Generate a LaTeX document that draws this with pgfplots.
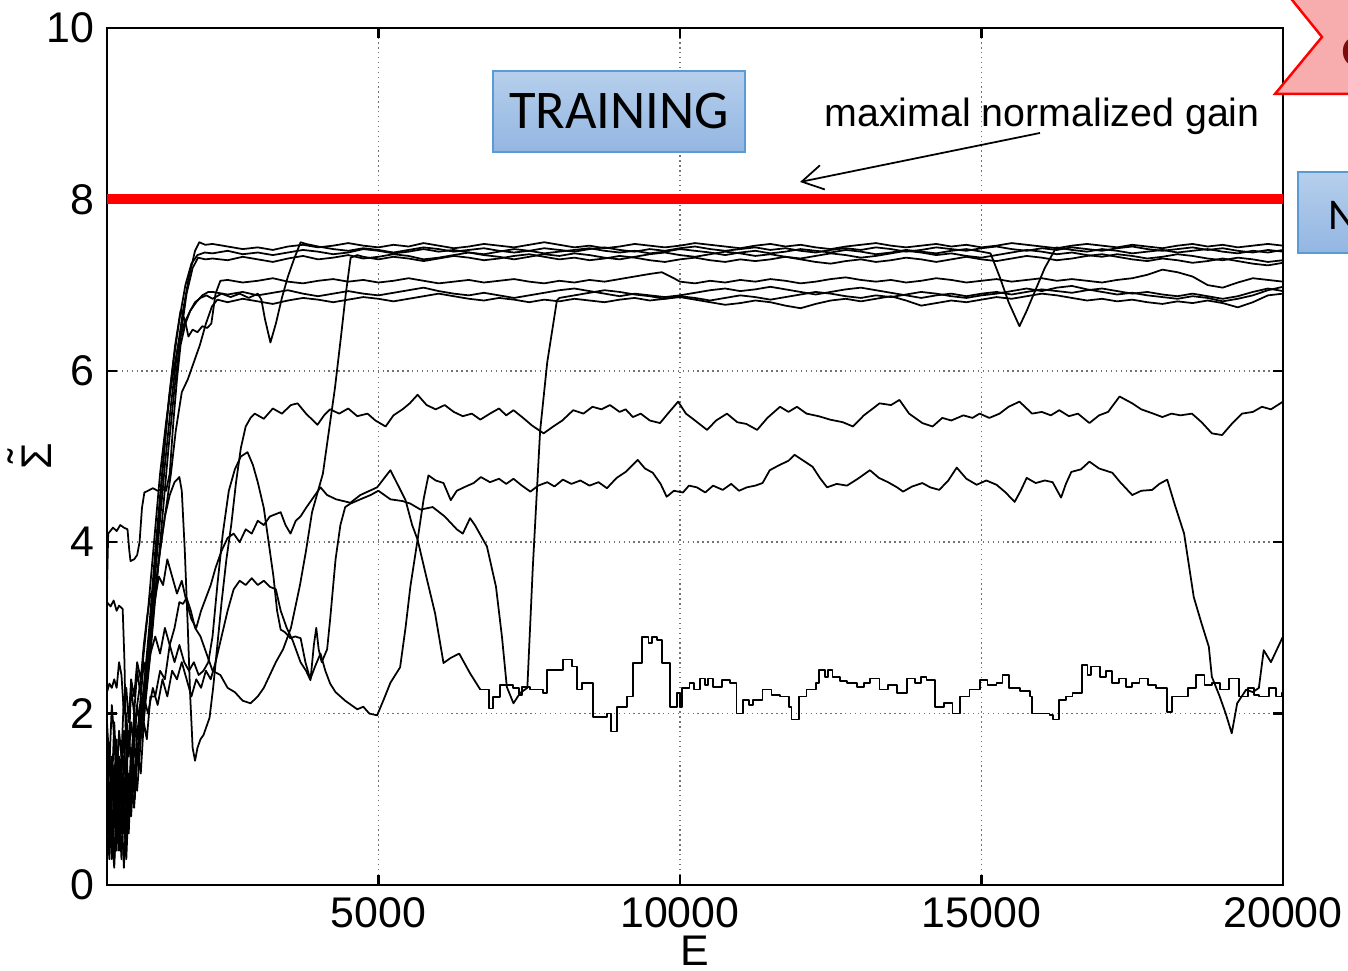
\documentclass[border=0pt]{standalone}
\usepackage{fontspec}
\setmainfont{Liberation Sans}
\newfontfamily\calibri{Carlito}
\usepackage{pgfplots}
\pgfplotsset{compat=1.18}
\usetikzlibrary{arrows.meta}
\definecolor{boxtop}{HTML}{B6CFEC}
\definecolor{boxbot}{HTML}{93B6E2}
\definecolor{boxedge}{HTML}{5B9BD5}
\definecolor{starfill}{HTML}{F7ADAD}
\definecolor{starink}{HTML}{7A0C0C}
\pgfplotsset{run/.style={black, line width=0.5pt, line join=round, mark=none}}

\begin{document}
\begin{tikzpicture}
\useasboundingbox (0,0) rectangle (13.48,9.71);
\clip (0,0) rectangle (13.48,9.71);
\begin{axis}[
  at={(1.07cm,0.86cm)}, anchor=south west,
  scale only axis, width=11.76cm, height=8.57cm,
  xmin=500, xmax=20000, ymin=0, ymax=10,
  xtick={5000,10000,15000,20000}, ytick={0,2,4,6,8,10},
  scaled x ticks=false,
  xticklabel style={/pgf/number format/1000 sep={}},
  /pgf/number format/assume math mode=true,
  ticklabel style={font=\fontsize{12.2}{14}\selectfont},
  grid=major, major grid style={black!55, densely dotted, line width=0.45pt},
  tick align=inside, major tick length=0.1cm, tick style={black, line width=0.7pt},
  axis line style={black, line width=0.8pt},
  xlabel={E},
  ylabel={\ooalign{Σ\cr\hidewidth\raisebox{0.3em}{˜}\hidewidth\cr}},
  label style={font=\fontsize{12.2}{14}\selectfont},
  xlabel style={at={(axis description cs:0.5,-0.077)}, anchor=center},
  ylabel style={at={(axis description cs:-0.06,0.5)}, anchor=center},
]
% runs that settle in the upper band
\addplot[run] coordinates {(500,1.3)(540,0.6)(580,1.5)(620,0.7)(660,1.2)(700,0.4)(740,1.1)(780,0.6)(820,1.4)(860,0.9)(900,1.6)(950,1.2)(1000,1.8)(1060,2.0)(1160,2.6)(1260,3.3)(1360,4.1)(1460,4.9)(1560,5.6)(1660,6.2)(1760,6.7)(1860,7.1)(1960,7.4)(2030,7.5)(2130,7.47)
(2250,7.48)(2500,7.45)(2750,7.42)(3000,7.44)(3250,7.41)(3500,7.45)(3750,7.47)(4000,7.44)(4250,7.46)(4500,7.49)(4750,7.46)(5000,7.44)(5250,7.47)(5500,7.45)(5750,7.49)(6000,7.46)(6250,7.43)(6500,7.45)(6750,7.48)(7000,7.46)(7250,7.44)(7500,7.47)(7750,7.50)(8000,7.47)(8250,7.44)(8500,7.46)(8750,7.43)(9000,7.45)(9250,7.48)(9500,7.46)(9750,7.44)(10000,7.46)(10250,7.49)(10500,7.47)(10750,7.45)(11000,7.43)(11250,7.46)(11500,7.48)(11750,7.45)(12000,7.47)(12250,7.44)(12500,7.42)(12750,7.45)(13000,7.47)(13250,7.49)(13500,7.46)(13750,7.44)(14000,7.46)(14250,7.48)(14500,7.45)(14750,7.47)(15000,7.44)(15250,7.46)(15500,7.49)(15750,7.47)(16000,7.45)(16250,7.43)(16500,7.46)(16750,7.48)(17000,7.46)(17250,7.44)(17500,7.47)(17750,7.45)(18000,7.43)(18250,7.46)(18500,7.48)(18750,7.45)(19000,7.47)(19250,7.44)(19500,7.46)(19750,7.48)(20000,7.46)};
\addplot[run] coordinates {(500,0.9)(540,1.6)(580,0.8)(620,0.3)(660,1.0)(700,1.5)(740,0.7)(780,1.2)(820,0.5)(860,1.1)(900,0.8)(950,1.4)(1000,1.1)(1060,1.7)(1120,2.0)(1220,2.7)(1320,3.5)(1420,4.3)(1520,5.1)(1620,5.8)(1720,6.4)(1820,6.9)(1920,7.2)(2010,7.32)(2130,7.3)
(2250,7.31)(2500,7.29)(2750,7.33)(3000,7.30)(3250,7.27)(3500,7.31)(3750,7.34)(4000,7.30)(4250,7.32)(4500,7.35)(4750,7.31)(5000,7.33)(5250,7.36)(5500,7.34)(5750,7.30)(6000,7.32)(6250,7.35)(6500,7.38)(6750,7.35)(7000,7.33)(7250,7.30)(7500,7.33)(7750,7.36)(8000,7.34)(8250,7.37)(8500,7.35)(8750,7.32)(9000,7.30)(9250,7.33)(9500,7.36)(9750,7.38)(10000,7.35)(10250,7.33)(10500,7.36)(10750,7.39)(11000,7.37)(11250,7.34)(11500,7.36)(11750,7.33)(12000,7.31)(12250,7.34)(12500,7.37)(12750,7.35)(13000,7.32)(13250,7.34)(13500,7.37)(13750,7.40)(14000,7.38)(14250,7.35)(14500,7.37)(14750,7.34)(15000,7.32)(15250,7.35)(15500,7.38)(15750,7.41)(16000,7.39)(16250,7.36)(16500,7.38)(16750,7.35)(17000,7.33)(17250,7.36)(17500,7.34)(17750,7.31)(18000,7.33)(18250,7.36)(18500,7.34)(18750,7.31)(19000,7.29)(19250,7.32)(19500,7.30)(19750,7.27)(20000,7.29)};
\addplot[run] coordinates {(500,0.5)(540,1.1)(580,0.3)(620,0.9)(660,0.4)(700,1.3)(740,0.9)(780,0.2)(820,0.8)(860,1.3)(900,1.0)(950,1.6)(1000,1.4)(1060,1.9)(1110,2.3)(1200,3.0)(1300,3.9)(1400,4.7)(1500,5.5)(1600,6.1)(1700,6.6)(1800,7.0)(1900,7.25)(2000,7.35)(2120,7.38)
(2250,7.37)(2500,7.40)(2750,7.36)(3000,7.38)(3250,7.35)(3500,7.38)(3750,7.41)(4000,7.39)(4250,7.36)(4500,7.38)(4750,7.42)(5000,7.40)(5250,7.37)(5500,7.39)(5750,7.42)(6000,7.39)(6250,7.41)(6500,7.38)(6750,7.36)(7000,7.39)(7250,7.42)(7500,7.40)(7750,7.37)(8000,7.39)(8250,7.41)(8500,7.43)(8750,7.40)(9000,7.38)(9250,7.40)(9500,7.37)(9750,7.39)(10000,7.42)(10250,7.40)(10500,7.38)(10750,7.35)(11000,7.38)(11250,7.40)(11500,7.37)(11750,7.39)(12000,7.42)(12250,7.40)(12500,7.38)(12750,7.41)(13000,7.39)(13250,7.36)(13500,7.38)(13750,7.41)(14000,7.39)(14250,7.37)(14500,7.40)(14750,7.42)(15000,7.39)(15150,7.37)(15300,7.10)(15450,6.80)(15630,6.52)(15750,6.70)(15900,6.95)(16050,7.20)(16240,7.44)(16500,7.41)(16750,7.39)(17000,7.42)(17250,7.40)(17500,7.37)(17750,7.39)(18000,7.41)(18250,7.38)(18500,7.40)(18750,7.42)(19000,7.39)(19250,7.37)(19500,7.40)(19750,7.38)(20000,7.41)};
\addplot[run] coordinates {(500,3.5)(520,4.1)(600,4.17)(660,4.13)(720,4.2)(780,4.17)(840,4.15)(870,3.9)(890,3.78)(950,3.8)(1000,3.85)(1040,4.0)(1080,4.4)(1120,4.58)(1180,4.6)(1260,4.63)(1340,4.6)(1420,4.62)(1480,4.6)(1540,4.8)(1600,5.4)(1660,5.9)(1720,6.3)(1800,6.55)(1880,6.7)(1960,6.8)(2050,6.85)(2150,6.88)(2250,6.84)(2400,6.9)(2550,6.86)(2700,6.9)(2850,6.85)(3000,6.9)(3060,6.83)(3120,6.6)(3210,6.33)(3300,6.55)(3400,6.85)(3500,7.1)(3600,7.3)(3710,7.5)
(3800,7.48)(4000,7.45)(4250,7.42)(4500,7.40)(4750,7.43)(5000,7.41)(5250,7.38)(5500,7.41)(5750,7.44)(6000,7.42)(6250,7.39)(6500,7.41)(6750,7.43)(7000,7.40)(7250,7.38)(7500,7.40)(7750,7.43)(8000,7.41)(8250,7.39)(8500,7.42)(8750,7.44)(9000,7.41)(9250,7.39)(9500,7.42)(9750,7.40)(10000,7.43)(10250,7.45)(10500,7.42)(10750,7.40)(11000,7.42)(11250,7.44)(11500,7.41)(11750,7.43)(12000,7.40)(12250,7.38)(12500,7.41)(12750,7.43)(13000,7.41)(13250,7.44)(13500,7.42)(13750,7.39)(14000,7.41)(14250,7.44)(14500,7.42)(14750,7.40)(15000,7.43)(15250,7.45)(15500,7.42)(15750,7.40)(16000,7.43)(16250,7.41)(16500,7.44)(16750,7.42)(17000,7.40)(17250,7.43)(17500,7.45)(17750,7.42)(18000,7.40)(18250,7.42)(18500,7.44)(18750,7.41)(19000,7.43)(19250,7.40)(19500,7.38)(19750,7.41)(20000,7.39)};
\addplot[run] coordinates {(500,0.4)(540,1.2)(580,0.6)(620,0.2)(660,0.9)(700,0.5)(740,1.4)(780,0.8)(820,0.3)(860,1.0)(900,1.5)(950,1.1)(1000,1.6)(1060,1.3)(1110,1.9)(1160,1.7)(1220,2.2)(1300,2.2)(1380,2.5)(1460,2.4)(1540,2.8)(1620,3.0)(1700,3.3)(1760,3.28)(1820,3.35)(1890,3.2)(1960,3.0)(2050,2.9)(2150,2.7)(2250,2.5)(2380,2.45)(2500,2.3)(2620,2.25)(2750,2.15)(2880,2.12)(3000,2.2)(3100,2.3)(3200,2.45)(3300,2.6)(3420,2.75)(3550,3.0)(3700,3.5)(3800,3.9)(3900,4.35)(4000,4.6)(4080,4.8)(4180,5.3)(4280,5.8)(4380,6.4)(4460,6.9)(4540,7.32)
(4650,7.35)(4750,7.33)(5000,7.30)(5250,7.33)(5500,7.31)(5750,7.28)(6000,7.31)(6250,7.34)(6500,7.32)(6750,7.29)(7000,7.31)(7250,7.34)(7500,7.36)(7750,7.33)(8000,7.30)(8250,7.32)(8500,7.29)(8750,7.31)(9000,7.34)(9250,7.32)(9500,7.29)(9750,7.27)(10000,7.30)(10250,7.32)(10500,7.29)(10750,7.27)(11000,7.30)(11250,7.28)(11500,7.30)(11750,7.33)(12000,7.30)(12250,7.27)(12500,7.25)(12750,7.28)(13000,7.30)(13250,7.27)(13500,7.29)(13750,7.32)(14000,7.30)(14250,7.27)(14500,7.30)(14750,7.33)(15000,7.30)(15250,7.28)(15500,7.31)(15750,7.34)(16000,7.32)(16250,7.29)(16500,7.31)(16750,7.34)(17000,7.36)(17250,7.33)(17500,7.30)(17750,7.28)(18000,7.31)(18250,7.29)(18500,7.26)(18750,7.28)(19000,7.31)(19250,7.28)(19500,7.25)(19750,7.23)(20000,7.26)};
% runs that settle slightly lower
\addplot[run] coordinates {(500,0.7)(540,0.3)(580,1.0)(620,1.4)(660,0.6)(700,0.9)(740,0.3)(780,1.0)(820,1.5)(860,0.7)(900,1.2)(950,0.9)(1000,1.5)(1060,1.8)(1130,2.3)(1230,3.1)(1330,4.0)(1430,4.9)(1530,5.7)(1630,6.3)(1720,6.7)(1790,6.6)(1850,6.4)(1920,6.48)(2000,6.45)(2080,6.52)(2160,6.5)(2230,6.55)(2300,6.9)(2380,7.05)
(2500,7.06)(2750,7.03)(3000,7.05)(3250,7.08)(3500,7.04)(3750,7.02)(4000,7.05)(4250,7.07)(4500,7.04)(4750,7.06)(5000,7.03)(5250,7.05)(5500,7.08)(5750,7.05)(6000,7.02)(6250,7.04)(6500,7.06)(6750,7.03)(7000,7.05)(7250,7.07)(7500,7.04)(7750,7.02)(8000,7.05)(8250,7.03)(8500,7.06)(8750,7.04)(9000,7.07)(9250,7.10)(9500,7.13)(9700,7.15)(9900,7.08)(10000,7.04)(10250,7.02)(10500,7.05)(10750,7.03)(11000,7.06)(11250,7.04)(11500,7.07)(11750,7.05)(12000,7.02)(12250,7.04)(12500,7.07)(12750,7.09)(13000,7.06)(13250,7.04)(13500,7.06)(13750,7.03)(14000,7.05)(14250,7.08)(14500,7.06)(14750,7.03)(15000,7.05)(15250,7.07)(15500,7.04)(15750,7.06)(16000,7.08)(16250,7.05)(16500,7.07)(16750,7.05)(17000,7.03)(17250,7.06)(17500,7.08)(17750,7.12)(18000,7.18)(18250,7.15)(18500,7.10)(18750,7.00)(19000,6.97)(19250,7.03)(19500,7.08)(19750,7.06)(20000,7.04)};
\addplot[run] coordinates {(500,1.6)(540,1.0)(580,0.5)(620,1.2)(660,1.7)(700,0.8)(740,1.3)(780,1.8)(820,1.0)(860,0.6)(900,1.3)(950,1.8)(1000,2.1)(1080,2.5)(1180,3.2)(1280,4.0)(1380,4.8)(1480,5.4)(1580,5.9)(1680,6.3)(1780,6.55)(1880,6.7)(1980,6.8)(2080,6.88)(2180,6.92)
(2250,6.92)(2500,6.89)(2750,6.92)(3000,6.88)(3250,6.91)(3500,6.94)(3750,6.90)(4000,6.87)(4250,6.90)(4500,6.93)(4750,6.90)(5000,6.88)(5250,6.91)(5500,6.94)(5750,6.97)(6000,6.93)(6250,6.90)(6500,6.88)(6750,6.91)(7000,6.88)(7250,6.85)(7500,6.88)(7750,6.91)(8000,6.94)(8250,6.96)(8500,6.93)(8750,6.90)(9000,6.87)(9250,6.90)(9500,6.88)(9750,6.86)(10000,6.88)(10250,6.91)(10500,6.94)(10750,6.96)(11000,6.93)(11250,6.95)(11500,6.98)(11750,6.95)(12000,6.92)(12250,6.89)(12500,6.92)(12750,6.95)(13000,6.97)(13250,6.94)(13500,6.91)(13750,6.88)(14000,6.85)(14250,6.88)(14500,6.90)(14750,6.87)(15000,6.90)(15250,6.92)(15500,6.89)(15750,6.92)(16000,6.95)(16250,6.93)(16500,6.91)(16750,6.94)(17000,6.96)(17250,6.93)(17500,6.90)(17750,6.92)(18000,6.89)(18250,6.87)(18500,6.90)(18750,6.87)(19000,6.84)(19250,6.87)(19500,6.92)(19750,6.96)(20000,6.93)};
\addplot[run] coordinates {(500,3.3)(560,3.25)(610,3.32)(660,3.2)(700,3.26)(760,3.22)(790,2.6)(810,1.8)(840,1.3)(870,0.8)(910,1.4)(960,1.0)(1010,1.6)(1060,2.1)(1110,1.9)(1160,2.5)(1260,3.2)(1360,3.8)(1460,4.3)(1560,4.8)(1640,5.3)(1740,5.75)(1840,5.9)(1940,6.1)(2040,6.3)(2140,6.55)(2240,6.75)
(2330,6.83)(2500,6.80)(2750,6.84)(3000,6.81)(3250,6.78)(3500,6.82)(3750,6.85)(4000,6.83)(4250,6.80)(4500,6.83)(4750,6.86)(5000,6.84)(5250,6.81)(5500,6.84)(5750,6.87)(6000,6.90)(6250,6.87)(6500,6.84)(6750,6.82)(7000,6.85)(7250,6.83)(7500,6.80)(7750,6.83)(8000,6.81)(8250,6.84)(8500,6.82)(8750,6.80)(9000,6.83)(9250,6.85)(9500,6.82)(9750,6.84)(10000,6.86)(10250,6.83)(10500,6.80)(10750,6.77)(11000,6.79)(11250,6.82)(11500,6.80)(11750,6.76)(12000,6.73)(12250,6.78)(12500,6.82)(12750,6.84)(13000,6.81)(13250,6.84)(13500,6.87)(13750,6.82)(14000,6.76)(14250,6.79)(14500,6.82)(14750,6.80)(15000,6.83)(15250,6.86)(15500,6.84)(15750,6.87)(16000,6.90)(16250,6.88)(16500,6.85)(16750,6.82)(17000,6.84)(17250,6.81)(17500,6.83)(17750,6.80)(18000,6.78)(18250,6.81)(18500,6.79)(18750,6.82)(19000,6.79)(19250,6.74)(19500,6.80)(19750,6.88)(20000,6.90)};
\addplot[run] coordinates {(500,0.8)(540,1.5)(580,1.1)(620,1.9)(660,1.3)(700,0.7)(740,1.6)(780,1.3)(820,2.0)(860,1.5)(900,1.9)(950,1.6)(1000,2.1)(1060,1.8)(1110,2.2)(1180,2.0)(1260,2.3)(1340,2.1)(1420,2.4)(1500,2.2)(1580,2.5)(1660,2.4)(1740,2.6)(1820,2.4)(1900,2.2)(1980,2.4)(2060,2.3)(2140,2.5)(2220,2.4)(2300,2.6)(2400,2.9)(2500,3.2)(2600,3.45)(2700,3.55)(2800,3.5)(2900,3.58)(3000,3.5)(3100,3.55)(3200,3.48)(3300,3.45)(3380,3.2)(3480,3.0)(3580,2.85)(3709,2.6)(3800,2.5)(3874,2.39)(3930,2.8)(3970,3.0)(4010,2.75)(4060,2.6)(4150,2.75)(4200,3.1)(4290,3.8)(4370,4.2)(4450,4.41)(4536,4.45)(4700,4.5)(4870,4.55)(5000,4.6)(5200,4.5)(5400,4.48)(5530,4.45)(5700,4.38)(5900,4.41)(6100,4.3)(6300,4.15)(6400,4.1)(6520,4.28)(6600,4.2)(6800,3.95)(6950,3.48)(7050,2.89)(7130,2.31)(7240,2.12)(7350,2.24)(7470,2.3)(7560,3.7)(7682,5.3)(7800,6.1)(7960,6.82)
(8000,6.85)(8250,6.88)(8500,6.91)(8750,6.94)(9000,6.92)(9250,6.89)(9500,6.87)(9750,6.84)(10000,6.87)(10250,6.85)(10500,6.82)(10750,6.85)(11000,6.88)(11250,6.86)(11500,6.83)(11750,6.86)(12000,6.89)(12250,6.92)(12500,6.90)(12750,6.87)(13000,6.85)(13250,6.88)(13500,6.86)(13750,6.89)(14000,6.92)(14250,6.90)(14500,6.87)(14750,6.85)(15000,6.88)(15250,6.90)(15500,6.93)(15750,6.96)(16000,6.93)(16250,6.97)(16500,6.99)(16750,6.95)(17000,6.92)(17250,6.89)(17500,6.91)(17750,6.88)(18000,6.86)(18250,6.84)(18500,6.87)(18750,6.85)(19000,6.81)(19250,6.84)(19500,6.88)(19750,6.94)(20000,6.98)};
% run around 5.5
\addplot[run] coordinates {(500,1.1)(540,0.5)(580,1.3)(620,0.8)(660,1.6)(700,1.1)(740,0.6)(780,1.5)(820,1.2)(860,1.8)(900,1.4)(950,2.0)(1000,1.7)(1060,2.2)(1110,2.0)(1160,2.5)(1220,2.8)(1300,3.4)(1380,3.9)(1460,4.3)(1540,4.55)(1620,4.7)(1700,4.76)(1740,4.6)(1790,3.9)(1840,3.0)(1880,2.2)(1920,1.6)(1960,1.45)(2000,1.6)(2050,1.7)(2100,1.75)(2150,1.85)(2200,1.95)(2260,2.3)(2330,2.8)(2400,3.3)(2480,3.8)(2560,4.2)(2640,4.7)(2720,5.1)(2800,5.35)(2880,5.45)
(2950,5.5)(3100,5.44)(3250,5.56)(3400,5.5)(3550,5.6)(3660,5.62)(3800,5.5)(3990,5.37)(4100,5.48)(4200,5.55)(4350,5.5)(4500,5.56)(4650,5.47)(4820,5.5)(4950,5.42)(5120,5.35)(5250,5.48)(5400,5.55)(5520,5.62)(5650,5.72)(5800,5.6)(5950,5.55)(6100,5.6)(6250,5.52)(6400,5.47)(6550,5.5)(6690,5.43)(6850,5.5)(7000,5.56)(7120,5.48)(7240,5.54)(7400,5.45)(7550,5.36)(7740,5.27)(7900,5.35)(8050,5.42)(8230,5.54)(8400,5.5)(8550,5.58)(8700,5.55)(8840,5.6)(9000,5.52)(9100,5.55)(9220,5.46)(9350,5.5)(9500,5.42)(9670,5.39)(9800,5.5)(9970,5.64)(10100,5.5)(10250,5.42)(10450,5.31)(10600,5.42)(10780,5.5)(10950,5.4)(11100,5.38)(11280,5.31)(11450,5.45)(11660,5.58)(11800,5.52)(11940,5.58)(12100,5.5)(12300,5.47)(12490,5.43)(12700,5.4)(12870,5.35)(13050,5.48)(13200,5.56)(13310,5.62)(13500,5.6)(13640,5.66)(13800,5.5)(14020,5.39)(14190,5.35)(14350,5.45)(14500,5.42)(14700,5.48)(14850,5.45)(14970,5.5)(15130,5.45)(15300,5.5)(15450,5.58)(15630,5.64)(15840,5.5)(16000,5.52)(16150,5.48)(16290,5.54)(16450,5.47)(16600,5.5)(16790,5.39)(16950,5.48)(17100,5.52)(17290,5.7)(17500,5.62)(17650,5.55)(17850,5.5)(18000,5.46)(18150,5.5)(18300,5.48)(18490,5.5)(18650,5.4)(18820,5.27)(18990,5.25)(19150,5.38)(19320,5.5)(19500,5.52)(19650,5.58)(19800,5.55)(20000,5.64)};
% run around 4.7 that collapses near the end
\addplot[run] coordinates {(500,1.9)(540,1.4)(580,2.1)(620,1.7)(660,1.2)(700,1.8)(740,1.5)(780,2.2)(820,1.9)(860,1.6)(900,2.3)(950,2.0)(1000,2.5)(1060,2.2)(1110,2.6)(1160,2.4)(1220,2.7)(1300,2.9)(1380,2.7)(1460,3.0)(1540,2.8)(1620,2.6)(1700,2.8)(1780,2.6)(1860,2.5)(1940,2.6)(2020,2.45)(2100,2.5)(2180,2.6)(2250,2.9)(2330,3.5)(2420,4.1)(2520,4.6)(2620,4.85)(2720,5.0)(2830,5.05)(2920,4.9)(3000,4.7)(3100,4.4)(3180,4.0)(3260,3.6)(3320,3.2)(3380,2.98)(3450,2.95)(3540,2.88)(3620,2.9)(3710,2.88)(3790,2.6)(3870,2.4)(3950,2.55)(4040,2.7)(4120,2.5)(4200,2.35)(4290,2.25)(4370,2.2)(4450,2.15)(4550,2.1)(4650,2.05)(4750,2.08)(4850,2.0)(4980,1.98)(5080,2.15)(5200,2.36)(5280,2.45)(5360,2.54)(5450,3.0)(5530,3.48)(5650,4.03)(5750,4.5)(5830,4.78)(5950,4.72)(6080,4.69)(6200,4.49)(6300,4.6)(6450,4.65)(6580,4.69)
(6700,4.76)(6850,4.7)(7000,4.74)(7120,4.68)(7240,4.74)(7380,4.66)(7520,4.59)(7650,4.66)(7800,4.7)(7920,4.65)(8060,4.73)(8200,4.68)(8350,4.72)(8500,4.66)(8650,4.7)(8790,4.63)(8950,4.75)(9100,4.82)(9300,4.96)(9420,4.86)(9550,4.81)(9680,4.68)(9780,4.53)(9900,4.6)(10050,4.58)(10150,4.66)(10280,4.64)(10420,4.58)(10550,4.66)(10710,4.61)(10850,4.68)(10980,4.6)(11110,4.64)(11250,4.66)(11370,4.69)(11490,4.84)(11650,4.9)(11800,4.95)(11900,5.02)(12050,4.95)(12200,4.88)(12320,4.75)(12440,4.64)(12600,4.68)(12770,4.66)(12950,4.74)(13150,4.84)(13300,4.75)(13450,4.7)(13600,4.64)(13700,4.59)(13850,4.65)(14020,4.69)(14150,4.64)(14300,4.61)(14450,4.72)(14590,4.87)(14750,4.74)(14920,4.67)(15080,4.72)(15250,4.67)(15400,4.58)(15550,4.47)(15650,4.6)(15750,4.75)(15900,4.69)(16050,4.72)(16180,4.7)(16320,4.52)(16400,4.68)(16490,4.82)(16650,4.85)(16790,4.94)(16950,4.86)(17170,4.81)(17300,4.7)(17500,4.55)(17650,4.6)(17830,4.61)(17950,4.68)(18080,4.73)(18200,4.45)(18360,4.1)(18520,3.36)(18650,3.05)(18770,2.78)(18820,2.43)(18950,2.2)(19050,2.0)(19150,1.77)(19240,2.12)(19390,2.28)(19500,2.25)(19600,2.3)(19680,2.74)(19800,2.6)(19900,2.75)(20000,2.9)};
% run that ends in the stepped band near 2.2
\addplot[run] coordinates {(500,2.25)(540,2.35)(580,2.3)(620,2.4)(660,2.3)(700,2.6)(740,2.45)(780,2.0)(820,2.3)(860,1.9)(900,2.4)(950,2.2)(1000,2.6)(1060,2.4)(1110,2.8)(1160,3.1)(1220,3.4)(1290,3.3)(1360,3.6)(1430,3.5)(1500,3.8)(1580,3.6)(1660,3.4)(1740,3.55)(1820,3.3)(1900,3.1)(1980,3.0)(2060,3.2)(2140,3.35)(2220,3.5)(2300,3.7)(2400,3.9)(2500,4.05)(2600,4.1)(2700,4.0)(2800,4.15)(2900,4.1)(3000,4.25)(3100,4.2)(3200,4.3)(3380,4.35)(3460,4.2)(3543,4.1)(3630,4.25)(3709,4.3)(3800,4.4)(3900,4.5)(4040,4.64)(4150,4.55)(4300,4.5)(4536,4.46)(4700,4.55)(4980,4.64)(5100,4.75)(5199,4.84)(5300,4.7)(5450,4.49)(5560,4.2)(5650,4.03)(5780,3.64)(5940,3.17)(6080,2.59)(6200,2.65)(6340,2.7)(6520,2.47)(6690,2.28)};
\addplot[run, const plot] coordinates {(6690,2.28)(6840,2.06)(6900,2.19)(7020,2.33)(7230,2.30)(7330,2.22)(7380,2.31)(7517,2.28)(7730,2.24)(7800,2.51)(8060,2.63)(8210,2.55)(8290,2.28)(8380,2.36)(8560,1.96)(8790,2.0)(8860,1.79)(8960,2.08)(9120,2.2)(9220,2.59)(9370,2.89)(9480,2.82)(9540,2.89)(9620,2.86)(9700,2.59)(9830,2.08)(9950,2.24)(10000,2.08)(10030,2.3)(10160,2.36)(10230,2.28)(10330,2.41)(10420,2.33)(10470,2.41)(10550,2.31)(10700,2.39)(10830,2.36)(10940,2.0)(11040,2.16)(11150,2.1)(11210,2.16)(11320,2.16)(11370,2.28)(11520,2.22)(11660,2.2)(11810,2.08)(11850,1.93)(11980,2.2)(12100,2.28)(12260,2.36)(12310,2.51)(12410,2.43)(12460,2.51)(12530,2.43)(12650,2.38)(12770,2.36)(12930,2.31)(13050,2.36)(13150,2.41)(13310,2.28)(13450,2.33)(13600,2.24)(13760,2.41)(13900,2.36)(14000,2.43)(14090,2.39)(14230,2.08)(14380,2.12)(14520,2.0)(14640,2.2)(14800,2.28)(14970,2.39)(15100,2.33)(15250,2.36)(15350,2.45)(15460,2.3)(15640,2.26)(15800,2.2)(15840,2.0)(16130,1.98)(16180,1.93)(16290,2.16)(16400,2.2)(16510,2.24)(16670,2.57)(16760,2.45)(16820,2.55)(16960,2.43)(17060,2.5)(17170,2.36)(17280,2.41)(17400,2.31)(17500,2.36)(17620,2.41)(17760,2.33)(17900,2.3)(18080,2.02)(18160,2.2)(18280,2.2)(18420,2.3)(18560,2.45)(18700,2.33)(18820,2.36)(18960,2.28)(19100,2.41)(19270,2.2)(19420,2.3)(19520,2.22)(19600,2.2)(19770,2.3)(19880,2.2)(19980,2.24)(20000,2.24)};
% maximal normalized gain
\addplot[red, line width=2.8pt, forget plot] coordinates {(500,8) (20000,8)};
\end{axis}

% labels and call-outs
\shadedraw[top color=boxtop, bottom color=boxbot, draw=boxedge, line width=0.6pt] (4.93,8.19) rectangle (7.45,9.00);
\node at (6.19,8.595) {\calibri\fontsize{15.5}{18}\selectfont TRAINING};
\node[anchor=base, inner sep=0] at (10.42,8.44) {\fontsize{11.2}{13}\selectfont maximal normalized gain};
\draw[-{Straight Barb[length=6pt,width=7pt]}, line width=0.5pt] (10.40,8.38) -- (8.00,7.89);
\filldraw[fill=starfill, draw=red, line width=0.7pt] (12.84,9.81) -- (13.22,9.34) -- (12.75,8.77) -- (13.7,8.77) -- (13.7,9.81) -- cycle;
\node[anchor=west, inner sep=0, text=starink] at (13.41,9.19) {\calibri\bfseries\fontsize{17}{20}\selectfont e};
\shadedraw[top color=boxtop, bottom color=boxbot, draw=boxedge, line width=0.6pt] (12.98,7.18) rectangle (13.8,7.99);
\node[anchor=base west, inner sep=0] at (13.28,7.41) {\calibri\fontsize{12.5}{14}\selectfont N};
\end{tikzpicture}
\end{document}
